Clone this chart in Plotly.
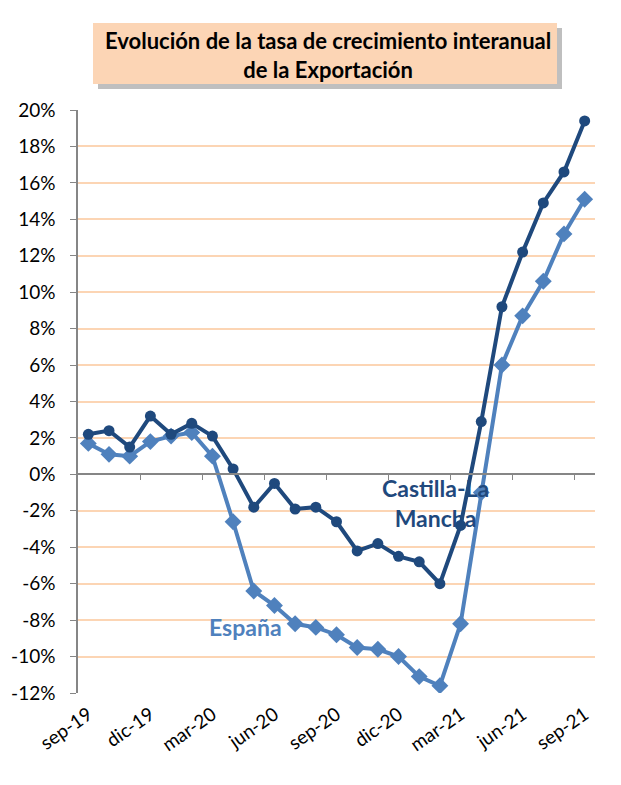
import plotly.graph_objects as go

months = ["sep-19","oct-19","nov-19","dic-19","ene-20","feb-20","mar-20","abr-20","may-20",
          "jun-20","jul-20","ago-20","sep-20","oct-20","nov-20","dic-20","ene-21","feb-21",
          "mar-21","abr-21","may-21","jun-21","jul-21","ago-21","sep-21"]
clm = [2.2, 2.4, 1.5, 3.2, 2.2, 2.8, 2.1, 0.3, -1.8, -0.5, -1.9, -1.8, -2.6, -4.2, -3.8,
       -4.5, -4.8, -6.0, -2.8, 2.9, 9.2, 12.2, 14.9, 16.6, 19.4]
espana = [1.7, 1.1, 1.0, 1.8, 2.1, 2.3, 1.0, -2.6, -6.4, -7.2, -8.2, -8.4, -8.8, -9.5, -9.6,
          -10.0, -11.1, -11.6, -8.2, -1.0, 6.0, 8.7, 10.6, 13.2, 15.1]
y_ticks = list(range(-12, 21, 2))
y_text = [f"{v}%" for v in y_ticks]

DARK = "#1F497D"
LIGHT = "#4F81BD"
GRID = "#FCD5B4"
AX = "#868686"
FONT = "Lato, Calibri, sans-serif"

idx = list(range(len(months)))
label_idx = idx[::3]
label_txt = months[::3]
tick_bounds = [i + 2.5 for i in range(0, len(months) - 1, 3)]

fig = go.Figure()
fig.add_trace(go.Scatter(x=idx, y=espana, mode="lines+markers", name="España",
                         line=dict(color=LIGHT, width=4),
                         marker=dict(symbol="diamond", size=13, color=LIGHT)))
fig.add_trace(go.Scatter(x=idx, y=clm, mode="lines+markers", name="Castilla-La Mancha",
                         line=dict(color=DARK, width=4),
                         marker=dict(symbol="circle", size=11, color=DARK)))
fig.add_trace(go.Scatter(x=[], y=[], xaxis="x2", showlegend=False, hoverinfo="skip"))

OFF = 8  # page body margin
L, R, T, B = 70, 26, 102, 92
W, H = 613, 777
pw = W - L - R
ph = H - T - B
def px(xp):
    return (xp - OFF - L) / pw
def py(yp):
    return (H - B - (yp - OFF)) / ph

fig.update_layout(
    width=W, height=H,
    margin=dict(l=L, r=R, t=T, b=B, autoexpand=False),
    plot_bgcolor="white", paper_bgcolor="white",
    showlegend=False,
    font=dict(family=FONT, color="#000000"),
    xaxis=dict(range=[-0.5, len(months) - 0.5], tickmode="array", tickvals=label_idx,
               ticktext=label_txt, tickangle=-35, showgrid=False, zeroline=False,
               showline=False, ticks="", automargin=False, ticklabelstandoff=6,
               tickfont=dict(size=19, family=FONT)),
    xaxis2=dict(range=[-0.5, len(months) - 0.5], overlaying="x", anchor="free",
                position=12 / 32, side="bottom", tickmode="array", tickvals=tick_bounds,
                showticklabels=False, ticks="outside", ticklen=5, tickcolor=AX,
                showline=True, linecolor=AX, linewidth=1.5, showgrid=False, zeroline=False,
                automargin=False),
    yaxis=dict(range=[-12, 20], tickmode="array", tickvals=y_ticks, ticktext=y_text,
               showgrid=True, gridcolor=GRID, gridwidth=1.5, zeroline=False,
               showline=True, linecolor=AX, linewidth=1.5, ticks="outside", ticklen=6,
               ticklabelstandoff=11,
               tickcolor=AX, automargin=False, tickfont=dict(size=19, family=FONT)),
)

# title box with shadow
fig.add_shape(type="rect", xref="paper", yref="paper",
              x0=px(98), x1=px(562), y0=py(89), y1=py(28),
              fillcolor="rgba(0,0,0,0.25)", line=dict(width=0), layer="above")
fig.add_shape(type="rect", xref="paper", yref="paper",
              x0=px(93), x1=px(557), y0=py(84), y1=py(23),
              fillcolor="#FCD5B5", line=dict(width=0), layer="above")
fig.add_annotation(xref="paper", yref="paper", x=px(328), y=py(55),
                   text="<b>Evolución de la tasa de crecimiento interanual<br>de la Exportación</b>",
                   showarrow=False, font=dict(size=22, family=FONT, color="#000000"),
                   align="center", xanchor="center", yanchor="middle")

fig.add_annotation(x=16.8, y=-1.55, text="<b>Castilla-La<br>Mancha</b>", showarrow=False,
                   font=dict(size=23, family=FONT, color=DARK), align="center",
                   xanchor="center", yanchor="middle")
fig.add_annotation(x=7.6, y=-8.35, text="<b>España</b>", showarrow=False,
                   font=dict(size=23, family=FONT, color=LIGHT),
                   xanchor="center", yanchor="middle")

fig.write_html("out.html")
